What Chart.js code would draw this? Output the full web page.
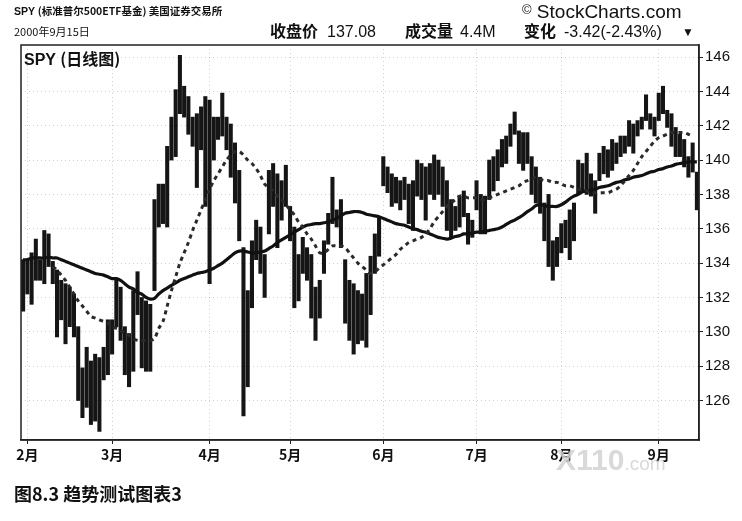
<!DOCTYPE html>
<html>
<head>
<meta charset="utf-8">
<script src="https://cdn.jsdelivr.net/npm/chart.js@4.4.0/dist/chart.umd.min.js"></script>
<style>
  html, body { margin: 0; padding: 0; background: #fff; }
  #wrap { position: relative; width: 742px; height: 521px; overflow: hidden; font-family: "Liberation Sans", Arial, sans-serif; color: #111; }
  #wrap canvas { position: absolute; left: 0; top: 0; }
  .t { position: absolute; white-space: nowrap; line-height: 1; }
  .cjk { font-family: "Noto Sans CJK SC", sans-serif; }
  .b { font-weight: bold; }
</style>
</head>
<body>
<div id="wrap">
  <canvas id="spyChart" width="742" height="521"></canvas>

  <div class="t b" style="left:14px;top:6px;font-size:10.5px;">SPY <span class="cjk">(标准普尔500ETF基金) 美国证券交易所</span></div>
  <div class="t" style="left:522px;top:2px;font-size:19px;"><span style="font-size:13px;vertical-align:4px;">©</span> StockCharts.com</div>

  <div class="t cjk" style="left:14px;top:26px;font-size:11px;">2000年9月15日</div>
  <div class="t cjk b" style="left:270px;top:22px;font-size:16px;">收盘价</div>
  <div class="t" style="left:327px;top:24px;font-size:16px;">137.08</div>
  <div class="t cjk b" style="left:405px;top:22px;font-size:16px;">成交量</div>
  <div class="t" style="left:460px;top:24px;font-size:16px;">4.4M</div>
  <div class="t cjk b" style="left:524px;top:22px;font-size:16px;">变化</div>
  <div class="t" style="left:564px;top:24px;font-size:16px;">-3.42(-2.43%)</div>
  <div class="t" style="left:682px;top:26px;font-size:12px;">▼</div>

  <div class="t b" style="left:24px;top:50px;font-size:16px;">SPY <span class="cjk">(日线图)</span></div>

  <div class="t b" style="left:556px;top:445px;font-size:30px;color:rgba(210,210,210,0.85);">X110<span style="font-size:19px;font-weight:normal;">.com</span></div>

  <div class="t cjk b" style="left:14px;top:484px;font-size:18px;">图8.3 趋势测试图表3</div>
</div>

<script>
// trading days from 2000-01-31 (day 0) to 2000-09-15 (day 159)
const monthLabels = ['2月', '3月', '4月', '5月', '6月', '7月', '8月', '9月'];
const monthStartDay = [1, 21, 44, 63, 85, 107, 127, 150];
const priceTicks = [126, 128, 130, 132, 134, 136, 138, 140, 142, 144, 146];

const highs = [
  134.2, 134.2, 134.6, 135.4, 134.2, 135.9, 135.7, 134.1, 133.6, 133.0,
  132.8, 132.6, 132.2, 130.3, 127.9, 129.1, 128.3, 128.7, 128.5, 129.1,
  130.7, 130.7, 133.0, 132.6, 130.3, 129.9, 132.4, 133.5, 132.0, 131.8,
  131.6, 137.7, 138.6, 138.6, 140.8, 142.5, 144.1, 146.1, 144.3, 143.7,
  142.5, 142.7, 143.1, 143.7, 143.5, 142.5, 142.5, 143.9, 142.5, 142.1,
  141.0, 139.4, 134.9, 132.4, 135.3, 136.5, 136.1, 134.5, 139.4, 139.8,
  139.2, 138.8, 139.7, 137.3, 136.1, 134.5, 135.5, 134.9, 134.5, 132.6,
  133.0, 135.3, 136.9, 139.0, 137.1, 137.7, 134.2, 133.0, 132.8, 132.4,
  132.2, 133.4, 134.4, 135.7, 136.7, 140.2, 139.6, 139.2, 139.0, 138.8,
  139.0, 138.6, 138.8, 140.0, 139.8, 139.6, 139.8, 140.3, 140.0, 139.6,
  138.8, 137.7, 137.3, 137.9, 138.2, 136.9, 136.5, 138.8, 138.0, 137.9,
  140.0, 140.2, 140.6, 141.2, 141.4, 142.1, 142.8, 141.7, 141.6, 141.6,
  140.2, 139.6, 139.0, 137.5, 138.0, 135.3, 135.5, 136.3, 136.5, 137.1,
  137.5, 140.0, 139.8, 140.4, 139.2, 138.8, 140.4, 140.8, 140.6, 141.2,
  141.0, 141.4, 141.4, 142.3, 142.1, 142.3, 142.5, 143.8, 142.7, 142.5,
  143.9, 144.3, 142.9, 142.7, 141.9, 141.5, 141.2, 140.2, 141.0, 139.3
];

const lows = [
  131.2, 132.2, 131.6, 133.0, 133.0, 132.8, 133.8, 132.8, 129.7, 130.7,
  129.3, 130.3, 129.7, 126.0, 125.0, 125.6, 124.6, 124.8, 124.2, 127.2,
  127.5, 128.7, 130.3, 129.5, 127.5, 126.8, 127.7, 131.0, 127.9, 127.7,
  127.7, 132.4, 136.1, 136.3, 136.1, 140.0, 140.2, 142.7, 142.5, 141.5,
  140.8, 138.4, 140.6, 137.3, 132.8, 140.0, 141.2, 141.4, 140.6, 139.0,
  137.5, 135.3, 125.1, 126.8, 131.4, 134.2, 133.4, 132.0, 135.7, 137.3,
  134.9, 136.5, 137.3, 135.3, 131.4, 131.8, 133.4, 133.0, 130.8, 129.5,
  130.8, 133.4, 135.1, 136.3, 136.1, 134.9, 130.5, 129.5, 128.7, 129.3,
  129.5, 129.1, 131.0, 133.4, 134.4, 138.5, 138.1, 137.3, 137.5, 137.1,
  137.7, 136.3, 135.9, 137.9, 137.7, 136.5, 138.0, 137.7, 138.0, 137.3,
  135.9, 135.5, 135.9, 136.1, 136.7, 135.1, 135.5, 137.1, 135.7, 135.7,
  137.7, 138.2, 138.8, 139.6, 139.8, 140.8, 141.5, 139.8, 139.4, 139.8,
  138.0, 137.5, 136.9, 135.3, 133.8, 133.0, 133.8, 134.6, 134.9, 134.2,
  135.3, 138.0, 138.2, 138.0, 137.9, 136.9, 138.8, 139.2, 139.0, 139.4,
  139.8, 140.2, 140.4, 140.8, 140.4, 141.4, 141.8, 142.3, 141.8, 141.4,
  142.3, 142.7, 141.9, 140.8, 140.2, 140.2, 139.6, 139.0, 139.3, 137.1
];

// short average (dashed)
const shortAvg = [
  null, null, null, null, null, null, null, 133.8, 133.6, 133.3,
  133.0, 132.6, 132.2, 131.8, 131.5, 131.2, 130.9, 130.8, 130.7, 130.6,
  130.5, 130.3, 130.2, 130.1, 129.9, 129.8, 129.6, 129.5, 129.5, 129.5,
  129.5, 129.6, 130.2, 130.6, 131.5, 132.4, 133.2, 134.0, 134.6, 135.2,
  135.9, 136.5, 137.1, 137.7, 138.3, 138.8, 139.2, 139.6, 140.0, 140.3,
  140.5, 140.5, 140.3, 140.0, 139.8, 139.5, 139.1, 138.6, 138.4, 138.2,
  137.9, 137.7, 137.4, 137.1, 136.8, 136.4, 136.1, 135.7, 135.4, 135.0,
  134.6, 134.6, 134.8, 135.0, 135.0, 135.0, 134.9, 134.6, 134.3, 134.0,
  133.8, 133.6, 133.4, 133.5, 133.7, 133.9, 134.1, 134.3, 134.5, 134.8,
  135.0, 135.2, 135.3, 135.4, 135.5, 135.7, 136.0, 136.4, 136.7, 137.0,
  137.3, 137.5, 137.7, 137.9, 137.9, 137.8, 137.8, 137.8, 137.7, 137.7,
  137.8, 137.9, 138.0, 138.1, 138.2, 138.3, 138.4, 138.5, 138.7, 138.8,
  138.9, 139.0, 138.9, 138.8, 138.8, 138.7, 138.7, 138.6, 138.5, 138.5,
  138.4, 138.3, 138.3, 138.2, 138.2, 138.1, 138.1, 138.1, 138.1, 138.2,
  138.3, 138.5, 138.8, 139.1, 139.4, 139.8, 140.2, 140.5, 140.8, 141.1,
  141.3, 141.4, 141.5, 141.6, 141.6, 141.6, 141.6, 141.5, 141.4, null
];

// long average (solid)
const longAvg = [
  134.2, 134.2, 134.3, 134.3, 134.3, 134.3, 134.35, 134.3, 134.3, 134.2,
  134.1, 134.0, 133.9, 133.8, 133.7, 133.6, 133.5, 133.4, 133.35, 133.3,
  133.2, 133.1, 133.1, 133.0, 132.8, 132.6, 132.5, 132.3, 132.2, 132.0,
  131.9, 131.95, 132.2, 132.4, 132.55, 132.7, 132.85, 133.0, 133.1, 133.2,
  133.3, 133.4, 133.45, 133.5, 133.6, 133.7, 133.85, 134.0, 134.2, 134.4,
  134.6, 134.7, 134.7, 134.65, 134.6, 134.6, 134.65, 134.7, 134.85, 135.0,
  135.2, 135.35, 135.5, 135.65, 135.8, 135.95, 136.1, 136.2, 136.25, 136.3,
  136.3, 136.35, 136.4, 136.5, 136.6, 136.75, 136.9, 136.95, 137.0, 137.0,
  136.95, 136.85, 136.8, 136.75, 136.7, 136.6, 136.5, 136.4, 136.3, 136.25,
  136.2, 136.1, 136.0, 135.95, 135.85, 135.8, 135.7, 135.6, 135.5, 135.45,
  135.4, 135.45, 135.55, 135.6, 135.7, 135.7, 135.75, 135.8, 135.8, 135.85,
  135.9, 135.95, 136.0, 136.1, 136.25, 136.4, 136.5, 136.65, 136.8, 137.0,
  137.15, 137.35, 137.4, 137.35, 137.3, 137.3, 137.3, 137.4, 137.55, 137.75,
  137.9, 138.0, 138.15, 138.2, 138.25, 138.3, 138.4, 138.45, 138.5, 138.6,
  138.7, 138.75, 138.85, 138.9, 139.0, 139.05, 139.1, 139.2, 139.3, 139.35,
  139.45, 139.5, 139.6, 139.65, 139.75, 139.8, 139.85, 139.9, 139.9, 139.9
];

const days = highs.map((h, i) => i);

// frame around the plot area
const frame = {
  id: 'frame',
  afterDraw(chart) {
    const { ctx, chartArea: a } = chart;
    ctx.save();
    ctx.strokeStyle = '#222';
    ctx.lineWidth = 1.5;
    ctx.strokeRect(a.left, a.top, a.right - a.left, a.bottom - a.top);
    ctx.restore();
  }
};

const ctx = document.getElementById('spyChart').getContext('2d');
new Chart(ctx, {
  type: 'bar',
  data: {
    labels: days,
    datasets: [
      {
        type: 'line',
        label: '短期均线',
        data: shortAvg,
        borderColor: '#2a2a2a',
        borderWidth: 3,
        borderDash: [4, 4],
        pointRadius: 0,
        tension: 0.3,
        order: 1
      },
      {
        type: 'line',
        label: '长期均线',
        data: longAvg,
        borderColor: '#111',
        borderWidth: 3.2,
        pointRadius: 0,
        tension: 0.3,
        order: 2
      },
      {
        label: 'SPY',
        data: highs.map((h, i) => [lows[i], h]),
        backgroundColor: '#151515',
        barThickness: 3.4,
        order: 3
      }
    ]
  },
  options: {
    responsive: false,
    animation: false,
    layout: { padding: { left: 21, top: 45, right: 0, bottom: 51 } },
    plugins: { legend: { display: false }, tooltip: { enabled: false } },
    scales: {
      x: {
        type: 'category',
        offset: true,
        afterBuildTicks: axis => { axis.ticks = monthStartDay.map(v => ({ value: v })); },
        afterFit: axis => { axis.height = 30; },
        ticks: {
          autoSkip: false,
          maxRotation: 0,
          padding: 2,
          color: '#111',
          font: { family: '"Noto Sans CJK SC"', size: 14, weight: 'bold' },
          callback: v => monthLabels[monthStartDay.indexOf(v)]
        },
        grid: { offset: false, color: 'rgba(0,0,0,0.18)', tickColor: '#222', tickLength: 4 },
        border: { color: '#222', width: 1.5, dash: [1, 3] }
      },
      y: {
        position: 'right',
        min: 123.7,
        max: 146.7,
        afterBuildTicks: axis => { axis.ticks = priceTicks.map(v => ({ value: v })); },
        afterFit: axis => { axis.width = 43; },
        ticks: {
          padding: 2,
          color: '#111',
          font: { family: '"Liberation Sans", Arial', size: 15 }
        },
        grid: { color: 'rgba(0,0,0,0.18)', tickColor: '#222', tickLength: 4 },
        border: { color: '#222', width: 1.5, dash: [1, 3] }
      }
    }
  },
  plugins: [frame]
});
</script>
</body>
</html>
